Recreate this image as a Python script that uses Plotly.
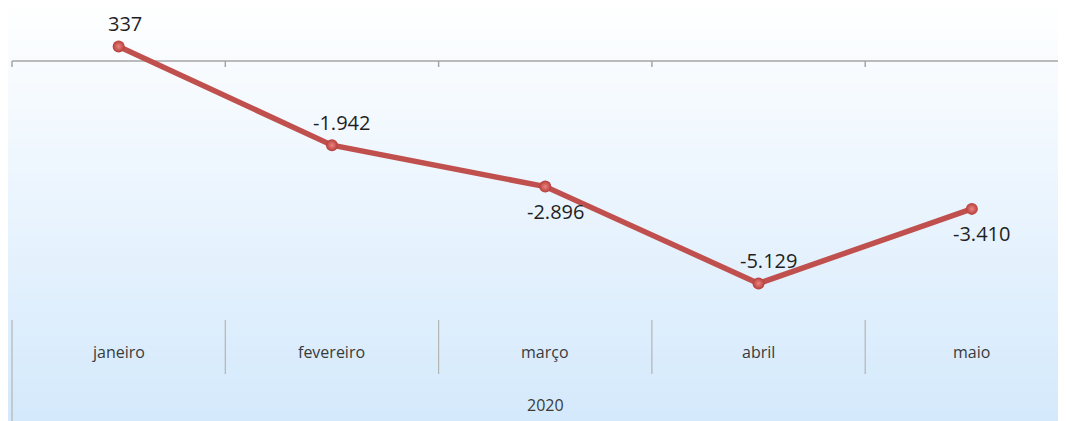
import plotly.graph_objects as go

months = ["janeiro", "fevereiro", "março", "abril", "maio"]
year_label = "2020"
values = [337, -1942, -2896, -5129, -3410]
value_labels = ["337", "-1.942", "-2.896", "-5.129", "-3.410"]
label_side = ["above", "above", "below", "above", "below"]

# page is rendered with an 8px body margin, so work in page pixels and offset
OFF = 8
W, H = 1066 - OFF, 421 - OFF
PAGE_PLOT_BOTTOM = 310
plot_h = PAGE_PLOT_BOTTOM - OFF
MB = H - plot_h
px_per_cat = 213.3
x0 = -0.5 - (12 - OFF) / px_per_cat
x1 = x0 + W / px_per_cat
units_per_px = 23.06
zero_page = 61
y_top = (zero_page - OFF) * units_per_px
y_bot = -(PAGE_PLOT_BOTTOM - zero_page) * units_per_px

def paper_y(page_py):
    return (plot_h - (page_py - OFF)) / plot_h

xs = list(range(len(months)))

fig = go.Figure()
fig.add_trace(go.Scatter(
    x=xs, y=values, mode="lines+markers",
    line=dict(color="#c0504d", width=5.5),
    marker=dict(size=12, color="#b53d39",
                gradient=dict(type="radial", color="#ec8480"),
                line=dict(width=0)),
    cliponaxis=False, hoverinfo="skip",
))

shapes = []
n = 90
top_c = (255, 255, 255)
bot_c = (212, 233, 252)
for i in range(n):
    t = (i + 0.5) / n
    c = tuple(round(top_c[k] + (bot_c[k] - top_c[k]) * t) for k in range(3))
    shapes.append(dict(type="rect", xref="paper", yref="paper",
                       x0=-0.05, x1=1.05,
                       y0=paper_y(421 * (i + 1) / n + 0.5), y1=paper_y(421 * i / n - 0.5),
                       fillcolor="rgb(%d,%d,%d)" % c, line=dict(width=0), layer="below"))
shapes.append(dict(type="line", xref="x", yref="y", x0=-0.5, x1=x1 + 1, y0=0, y1=0,
                   line=dict(color="#a6a6a6", width=1.5), layer="below"))
for i in range(len(months)):
    b = i - 0.5
    shapes.append(dict(type="line", xref="x", yref="y", x0=b, x1=b, y0=0,
                       y1=-6 * units_per_px, line=dict(color="#a6a6a6", width=1.5), layer="below"))
    shapes.append(dict(type="line", xref="x", yref="paper", x0=b, x1=b,
                       y0=paper_y(425 if i == 0 else 374), y1=paper_y(320),
                       line=dict(color="#b4b4b4", width=1.2), layer="below"))

annotations = []
for i, (v, lab, side) in enumerate(zip(values, value_labels, label_side)):
    annotations.append(dict(x=i, y=v, xref="x", yref="y", text=lab, showarrow=False,
                            font=dict(family="Open Sans", size=20, color="#1f1f1f"),
                            xanchor="center", yanchor="middle",
                            xshift=10 if lab.startswith("-") else 6,
                            yshift=23 if side == "above" else -25))
for i, m in enumerate(months):
    annotations.append(dict(x=i, y=paper_y(352), xref="x", yref="paper", text=m,
                            showarrow=False, font=dict(family="Open Sans", size=16, color="#3a3a3a"),
                            xanchor="center", yanchor="middle"))
annotations.append(dict(x=(len(months) - 1) / 2, y=paper_y(405), xref="x", yref="paper",
                        text=year_label, showarrow=False,
                        font=dict(family="Open Sans", size=16, color="#3a3a3a"),
                        xanchor="center", yanchor="middle"))

fig.update_layout(
    width=W, height=H,
    margin=dict(l=0, r=0, t=0, b=MB, pad=0),
    paper_bgcolor="white", plot_bgcolor="rgba(0,0,0,0)",
    showlegend=False,
    xaxis=dict(range=[x0, x1], visible=False, fixedrange=True),
    yaxis=dict(range=[y_bot, y_top], visible=False, fixedrange=True),
    shapes=shapes, annotations=annotations,
)

fig.write_html("out.html")
